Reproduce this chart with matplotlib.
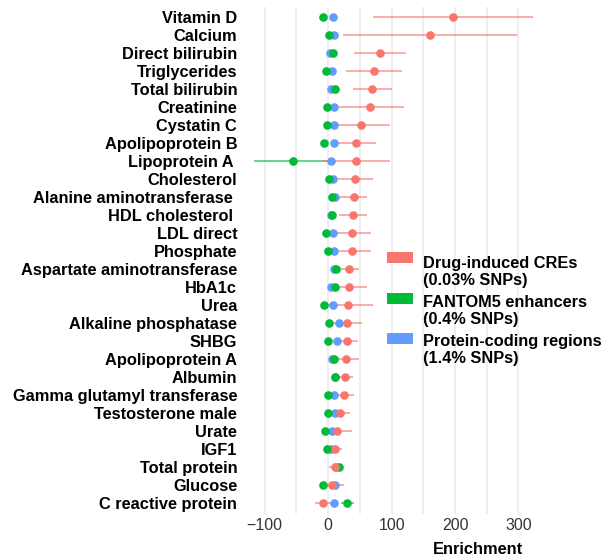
from matplotlib import pyplot as plt
from matplotlib.patches import Rectangle
import numpy as np

plt.rcParams['font.family'] = ['Liberation Sans', 'DejaVu Sans']

traits = ['Vitamin D', 'Calcium', 'Direct bilirubin', 'Triglycerides', 'Total bilirubin',
          'Creatinine', 'Cystatin C', 'Apolipoprotein B', 'Lipoprotein A ', 'Cholesterol',
          'Alanine aminotransferase ', 'HDL cholesterol ', 'LDL direct', 'Phosphate',
          'Aspartate aminotransferase', 'HbA1c', 'Urea', 'Alkaline phosphatase', 'SHBG',
          'Apolipoprotein A', 'Albumin', 'Gamma glutamyl transferase', 'Testosterone male',
          'Urate', 'IGF1', 'Total protein', 'Glucose', 'C reactive protein']

# Drug-induced CREs
cre_est = [197, 161, 81, 72, 69, 66, 52, 44, 44, 43, 40, 39, 38, 38,
           33, 33, 31, 30, 30, 28, 27, 25, 19, 14, 11, 11, 6, -8]
cre_lo = [70, 23, 40, 28, 39, 13, 6, 13, -10, 15, 19, 17, 9, 9,
          17, 5, -8, 7, 13, 8, 15, 9, 4, -10, 0, 1, -13, -20]
cre_hi = [323, 298, 122, 117, 100, 119, 98, 75, 98, 71, 62, 62, 67, 67,
          48, 61, 70, 53, 47, 48, 39, 41, 34, 38, 22, 22, 25, 6]

# FANTOM5 enhancers
fan_est = [-8, 1.5, 8, -3, 10, -2, -2, -6, -55, 2, 6, 6, -3, 0,
           13, 11, -6, 2, 0, 9, 11, 0, 0, -5, -2, 17, -8, 30]
fan_lo = [-12, -2, 5, -7, 7, -6, -6, -10, -117, -1, 3, 3, -7, -4,
          10, 8, -10, -1, -3, 6, 8, -3, -3, -9, -5, 14, -12, 20]
fan_hi = [-4, 5, 11, 1, 13, 2, 2, -2, 7, 5, 9, 9, 1, 4,
          16, 14, -2, 5, 3, 12, 14, 3, 3, -1, 1, 20, -4, 40]

# Protein-coding regions
pc_est = [8, 9, 3, 6, 4, 9, 9, 9, 5, 7, 10, 5, 8, 9,
          9, 5, 8, 17, 14, 6, 10, 9, 11, 6, 5, 13, 11, 9]
pc_lo = [6, 7, 1, 4, 2, 7, 7, 7, 3, 5, 8, 3, 6, 7,
         7, 3, 6, 15, 12, 4, 8, 7, 9, 4, 3, 11, 8, 7]
pc_hi = [10, 11, 5, 8, 6, 11, 11, 11, 7, 9, 12, 7, 10, 11,
         11, 7, 10, 19, 16, 8, 12, 11, 13, 8, 7, 15, 14, 11]

red, green, blue = '#F8766D', '#00BA38', '#619CFF'
labels = ['Drug-induced CREs\n(0.03% SNPs)', 'FANTOM5 enhancers\n(0.4% SNPs)',
          'Protein-coding regions\n(1.4% SNPs)']

W, H = 609, 560
fig = plt.figure(figsize=(W / 100, H / 100), dpi=100)
ax = fig.add_axes([240 / W, 1 - 513.5 / H, 307 / W, 507 / H])

y = np.arange(len(traits))

for est, lo, hi, col, z in [(pc_est, pc_lo, pc_hi, blue, 3),
                            (fan_est, fan_lo, fan_hi, green, 4),
                            (cre_est, cre_lo, cre_hi, red, 5)]:
    ax.hlines(y, lo, hi, color=col, alpha=0.65, lw=1.3, zorder=2)
    ax.plot(est, y, 'o', color=col, ms=6.2, mec='none', zorder=z)

ax.set_xticks([-100, 0, 100, 200, 300])
ax.set_xticklabels(['\u2212100', '0', '100', '200', '300'])
ax.set_xticks([-150, -50, 50, 150, 250], minor=True)
ax.set_yticks(y)
ax.set_yticklabels(traits, fontweight='bold', fontsize=11.8, color='black')
# limits after ticks so the minor ticks don't widen the view
ax.set_xlim(-139, 345)
ax.set_ylim(len(traits) - 0.4, -0.6)
ax.tick_params(axis='x', which='both', length=0, labelsize=11.5, labelcolor='#333333', pad=3)
ax.tick_params(axis='y', length=0, pad=2)
ax.grid(axis='x', which='major', color='#EBEBEB', lw=1.2)
ax.grid(axis='x', which='minor', color='#EBEBEB', lw=1.2)
ax.set_axisbelow(True)
for s in ax.spines.values():
    s.set_visible(False)

fig.text(478 / W, 1 - 550 / H, 'Enrichment', ha='center', va='center',
         fontsize=11.8, fontweight='bold')

# legend
key_y = [257.5, 298, 338]
text_y = [272, 311, 350]
for col, lab, ky, ty in zip([red, green, blue], labels, key_y, text_y):
    fig.add_artist(Rectangle((387 / W, 1 - (ky + 5.5) / H), 26 / W, 11 / H,
                             transform=fig.transFigure, color=col, lw=0))
    fig.text(423 / W, 1 - ty / H, lab, ha='left', va='center', fontsize=11.8,
             fontweight='bold', linespacing=1.2)

fig.savefig('out.png', dpi=100)
